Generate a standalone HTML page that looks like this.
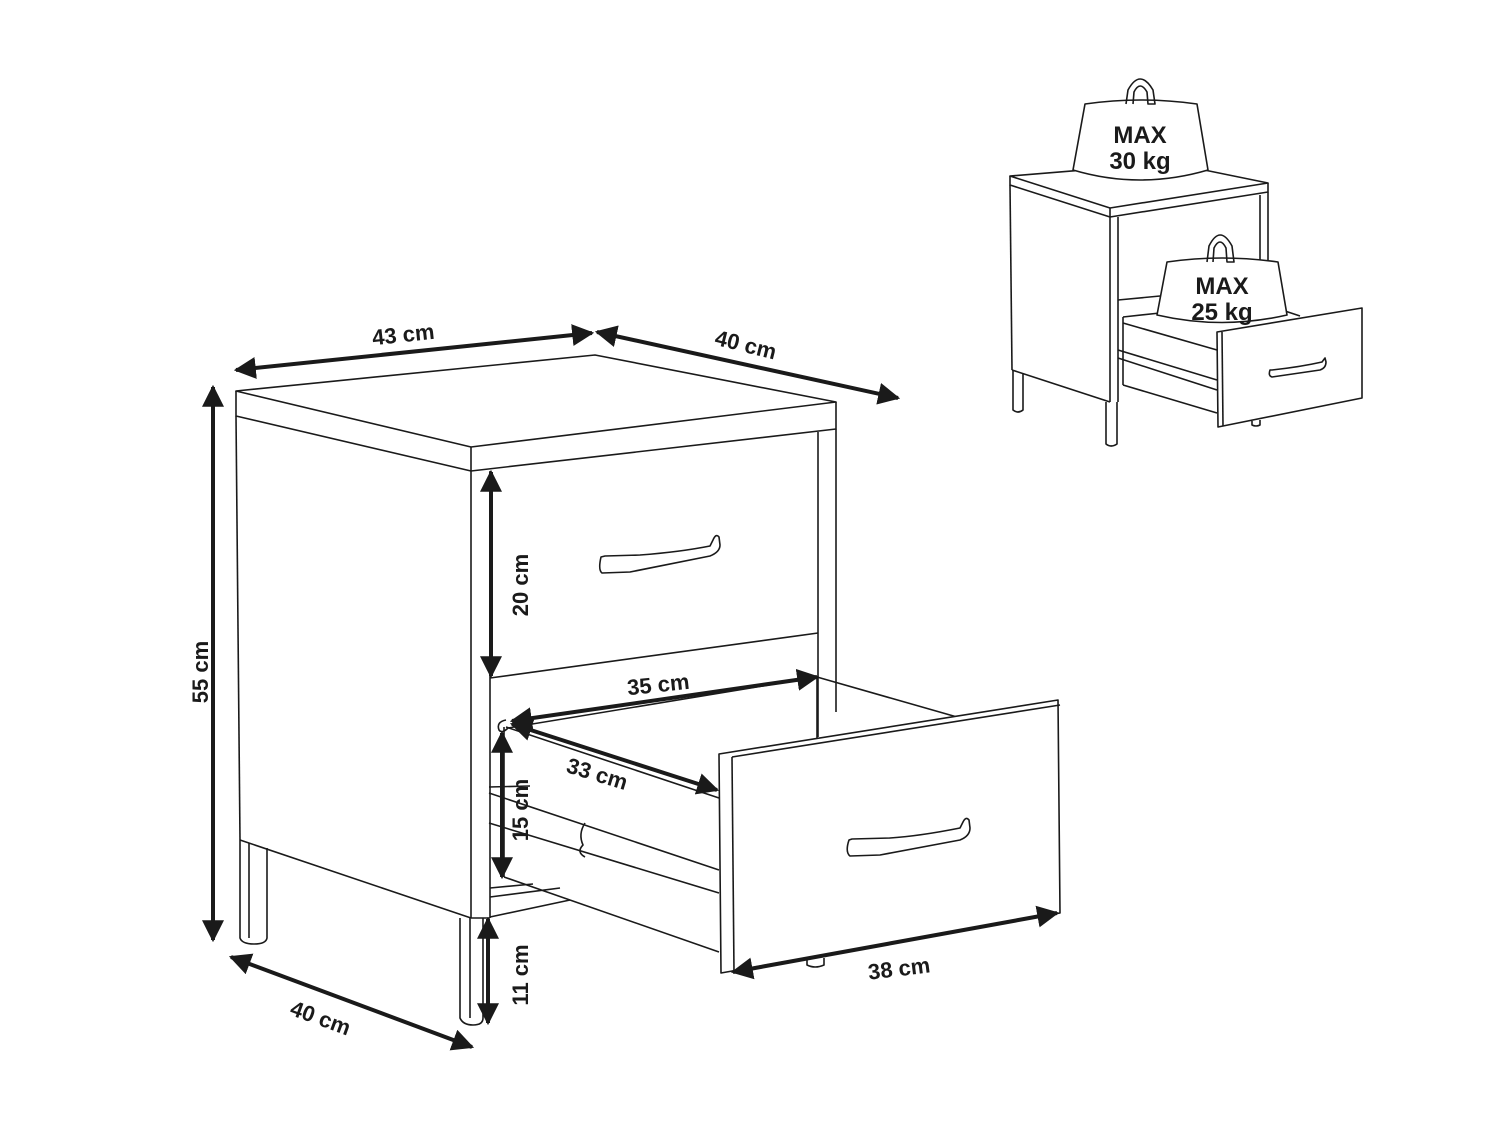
<!DOCTYPE html>
<html><head><meta charset="utf-8"><style>
html,body{margin:0;padding:0;background:#fff;}
svg{display:block;}
text{font-family:"Liberation Sans",sans-serif;font-weight:bold;fill:#1a1a1a;}
</style></head><body>
<svg width="1500" height="1124" viewBox="0 0 1500 1124" xmlns="http://www.w3.org/2000/svg">
<defs>
<marker id="a" viewBox="0 0 10 10" refX="9" refY="5" markerWidth="5.5" markerHeight="5.5" orient="auto-start-reverse"><path d="M0,0 L10,5 L0,10 z" fill="#1a1a1a"/></marker>
</defs>
<g fill="none" stroke="#1a1a1a" stroke-width="1.6" stroke-linejoin="round">
<polygon points="236,391 595,355 836,402 471,447" fill="#fff"/>
<polyline points="236,391 236,416 471,471 836,429 836,402"/>
<line x1="471" y1="447" x2="471" y2="471"/>
<line x1="236" y1="416" x2="240" y2="840"/>
<line x1="471" y1="471" x2="471" y2="918"/>
<line x1="240" y1="840" x2="471" y2="918"/>
<line x1="490" y1="471" x2="490" y2="918"/>
<line x1="471" y1="918" x2="490" y2="918"/>
<line x1="818" y1="432" x2="818" y2="737"/>
<line x1="836" y1="429" x2="836" y2="712"/>
<line x1="490" y1="678" x2="818" y2="633"/>
<path d="M601,557 Q598,570 602,573 L630,572 L710,556 Q720,552 720,545 L719,537 Q716,533 713,540 L710,546 Q680,552 640,555 L605,556 Z"/>
<path d="M240,840 L240,938 Q242,944 254,944 Q266,944 267,938 L267,848"/>
<line x1="249" y1="843" x2="249" y2="938"/>
<path d="M460,918 L460,1018 Q463,1025 473,1025 Q483,1025 483,1018 L483,918"/>
<line x1="470" y1="918" x2="470" y2="1018"/>
<line x1="490" y1="888" x2="533" y2="884"/>
<line x1="490" y1="897" x2="560" y2="888"/>
<line x1="490" y1="917" x2="570" y2="900"/>
<path d="M506,720 Q496,722 499,730 Q502,734 508,728 L817,677 L957,717"/>
<line x1="506" y1="727" x2="719" y2="798"/>
<line x1="504" y1="877" x2="719" y2="952"/>
<line x1="504" y1="727" x2="504" y2="877"/>
<line x1="489" y1="793" x2="719" y2="870"/>
<line x1="489" y1="823" x2="719" y2="893"/>
<line x1="489" y1="787" x2="530" y2="786"/>
<path d="M585,823 Q578,834 583,845 Q576,852 585,857"/>
<line x1="817" y1="677" x2="817" y2="740"/>
<polygon points="719,754 1058,700 1060,913 721,973" fill="#fff"/>
<line x1="732" y1="757" x2="734" y2="972"/>
<line x1="732" y1="757" x2="1060" y2="705"/>
<path d="M849,840 Q845,852 850,856 L880,855 L960,840 Q970,836 970,828 L969,820 Q966,816 963,822 L960,828 Q920,836 890,838 L852,839 Z"/>
<path d="M807,958 L807,965 Q815,969 824,965 L824,958"/>
<polygon points="1010,176 1170,163 1268,183 1110,208" fill="#fff"/>
<polyline points="1010,176 1010,185 1110,217 1268,192 1268,183"/>
<line x1="1110" y1="208" x2="1110" y2="217"/>
<line x1="1010" y1="185" x2="1012" y2="370"/>
<line x1="1110" y1="217" x2="1110" y2="402"/>
<line x1="1012" y1="370" x2="1110" y2="402"/>
<line x1="1118" y1="217" x2="1118" y2="402"/>
<line x1="1260" y1="195" x2="1260" y2="310"/>
<line x1="1268" y1="192" x2="1268" y2="305"/>
<line x1="1118" y1="300" x2="1160" y2="296"/>
<path d="M1013,370 L1013,410 Q1018,414 1023,410 L1023,373"/>
<path d="M1106,402 L1106,444 Q1111,448 1117,444 L1117,402"/>
<line x1="1123" y1="317" x2="1123" y2="385"/>
<polyline points="1123,317 1160,313"/>
<polyline points="1285,311 1300,316"/>
<line x1="1123" y1="323" x2="1217" y2="350"/>
<line x1="1123" y1="385" x2="1217" y2="413"/>
<line x1="1118" y1="350" x2="1217" y2="380"/>
<line x1="1118" y1="358" x2="1217" y2="390"/>
<polygon points="1217,332 1362,308 1362,398 1218,427" fill="#fff"/>
<line x1="1222" y1="332" x2="1223" y2="426"/>
<path d="M1270,370 Q1268,376 1272,377 L1320,370 Q1326,368 1326,362 L1325,358 L1322,362 Q1300,367 1272,370 Z"/>
<path d="M1252,421 L1252,425 Q1256,427 1260,425 L1260,420"/>
<path d="M1085,104 L1073,170 Q1140,190 1208,170 L1197,104 Q1141,96 1085,104 Z" fill="#fff"/>
<path d="M1126,104 L1128,90 Q1140,68 1153,90 L1155,104 L1148,104 L1147,92 Q1140,80 1134,92 L1133,104"/>
<path d="M1167,262 L1157,315 Q1222,330 1287,315 L1278,262 Q1222,254 1167,262 Z" fill="#fff"/>
<path d="M1207,262 L1209,246 Q1220,224 1232,246 L1234,262 L1227,262 L1226,248 Q1220,236 1214,248 L1213,262"/>
</g>
<g stroke="#1a1a1a" stroke-width="4" fill="none" marker-start="url(#a)" marker-end="url(#a)">
<line x1="236" y1="370" x2="592" y2="333"/>
<line x1="597" y1="332" x2="898" y2="398"/>
<line x1="213" y1="387" x2="213" y2="940"/>
<line x1="231" y1="957" x2="472" y2="1047"/>
<line x1="491" y1="472" x2="491" y2="676"/>
<line x1="502" y1="733" x2="502" y2="877"/>
<line x1="488" y1="919" x2="488" y2="1023"/>
<line x1="512" y1="721" x2="817" y2="677"/>
<line x1="512" y1="724" x2="717" y2="790"/>
<line x1="733" y1="972" x2="1057" y2="913"/>
</g>
<g font-size="22">
<text transform="translate(404,342) rotate(-6)" text-anchor="middle">43 cm</text>
<text transform="translate(744,352) rotate(14)" text-anchor="middle">40 cm</text>
<text transform="translate(208,672) rotate(-90)" text-anchor="middle">55 cm</text>
<text transform="translate(318,1025) rotate(20)" text-anchor="middle">40 cm</text>
<text transform="translate(528,585) rotate(-90)" text-anchor="middle">20 cm</text>
<text transform="translate(528,810) rotate(-90)" text-anchor="middle">15 cm</text>
<text transform="translate(528,975) rotate(-90)" text-anchor="middle">11 cm</text>
<text transform="translate(659,692) rotate(-6)" text-anchor="middle">35 cm</text>
<text transform="translate(595,781) rotate(17)" text-anchor="middle">33 cm</text>
<text transform="translate(900,976) rotate(-7)" text-anchor="middle">38 cm</text>
</g>
<g font-size="24" text-anchor="middle">
<text x="1140" y="143">MAX</text>
<text x="1140" y="169">30 kg</text>
<text x="1222" y="294">MAX</text>
<text x="1222" y="320">25 kg</text>
</g>
</svg>
</body></html>
